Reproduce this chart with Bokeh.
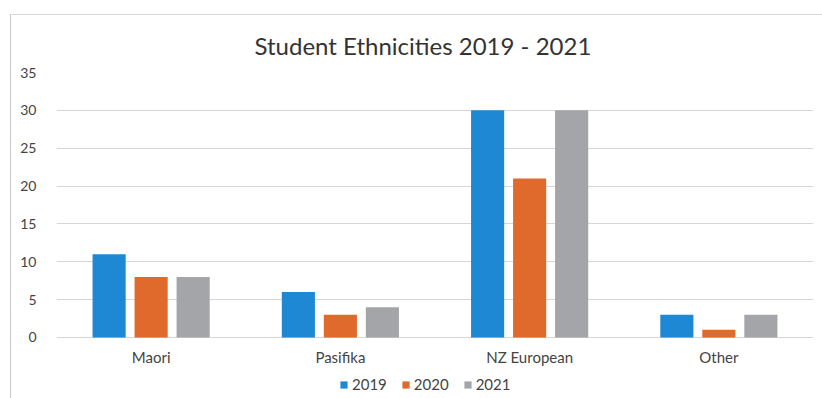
from bokeh.plotting import figure
from bokeh.models import ColumnDataSource, FactorRange, Legend, LegendItem, Range1d, FixedTicker
from bokeh.core.properties import value
from bokeh.transform import dodge
from bokeh.embed import file_html
from bokeh.resources import INLINE

categories = ["Maori", "Pasifika", "NZ European", "Other"]
years = ["2019", "2020", "2021"]
v2019 = [11, 6, 30, 3]
v2020 = [8, 3, 21, 1]
v2021 = [8, 4, 30, 3]
y_ticks = [0, 5, 10, 15, 20, 25, 30, 35]
colors = ["#1E88D4", "#E06A2C", "#A3A5A9"]

src = ColumnDataSource(dict(cat=categories, y2019=v2019, y2020=v2020, y2021=v2021,
                            zero=[0] * len(categories)))

FONT = "Lato"
# frame extends below zero to host category labels and legend (no clipping issues)
p = figure(x_range=FactorRange(*categories), y_range=Range1d(-8.2, 35),
           width=812, height=384, output_backend="svg", toolbar_location=None,
           min_border_left=45, min_border_right=10, min_border_top=57, min_border_bottom=0)
p.margin = (14, 0, 0, 10)
p.styles = {"border-left": "1px solid #c8c8c8", "border-top": "1px solid #dadada"}

p.title.text = "Student Ethnicities 2019 - 2021"
p.title.align = "left"
p.title.offset = 198
p.title.standoff = 25
p.title.text_font = FONT
p.title.text_font_size = "24px"
p.title.text_font_style = "normal"
p.title.text_color = "#333333"

offsets = [-0.222, 0.0, 0.222]
renderers = []
for yr, off, col in zip(years, offsets, colors):
    r = p.vbar(x=dodge("cat", off, range=p.x_range), top="y" + yr, width=0.175,
               source=src, fill_color=col, line_color=None)
    renderers.append(r)

# category labels under the baseline
p.text(x="cat", y="zero", text="cat", source=src, y_offset=20,
       text_align="center", text_baseline="middle",
       text_font=value(FONT), text_font_size="15px", text_color="#444444")

legend = Legend(items=[LegendItem(label=yr, renderers=[r]) for yr, r in zip(years, renderers)],
                orientation="horizontal", location=(283, 6),
                label_text_font=FONT, label_text_font_size="15px", label_text_color="#444444",
                glyph_width=9, glyph_height=9, spacing=14, label_standoff=4,
                border_line_color=None, background_fill_alpha=0, padding=0, margin=0)
p.add_layout(legend)

p.outline_line_color = None
p.xaxis.visible = False
p.xgrid.grid_line_color = None
p.ygrid.ticker = FixedTicker(ticks=y_ticks)
p.ygrid.grid_line_color = "#d6d6d6"
p.ygrid.grid_line_width = 1
p.yaxis.ticker = FixedTicker(ticks=y_ticks)
p.yaxis.axis_line_color = None
p.yaxis.major_tick_line_color = None
p.yaxis.minor_tick_line_color = None
p.yaxis.major_label_standoff = 14
p.yaxis.major_label_text_font = FONT
p.yaxis.major_label_text_font_size = "14px"
p.yaxis.major_label_text_color = "#444444"

open("out.html", "w").write(file_html(p, INLINE))
